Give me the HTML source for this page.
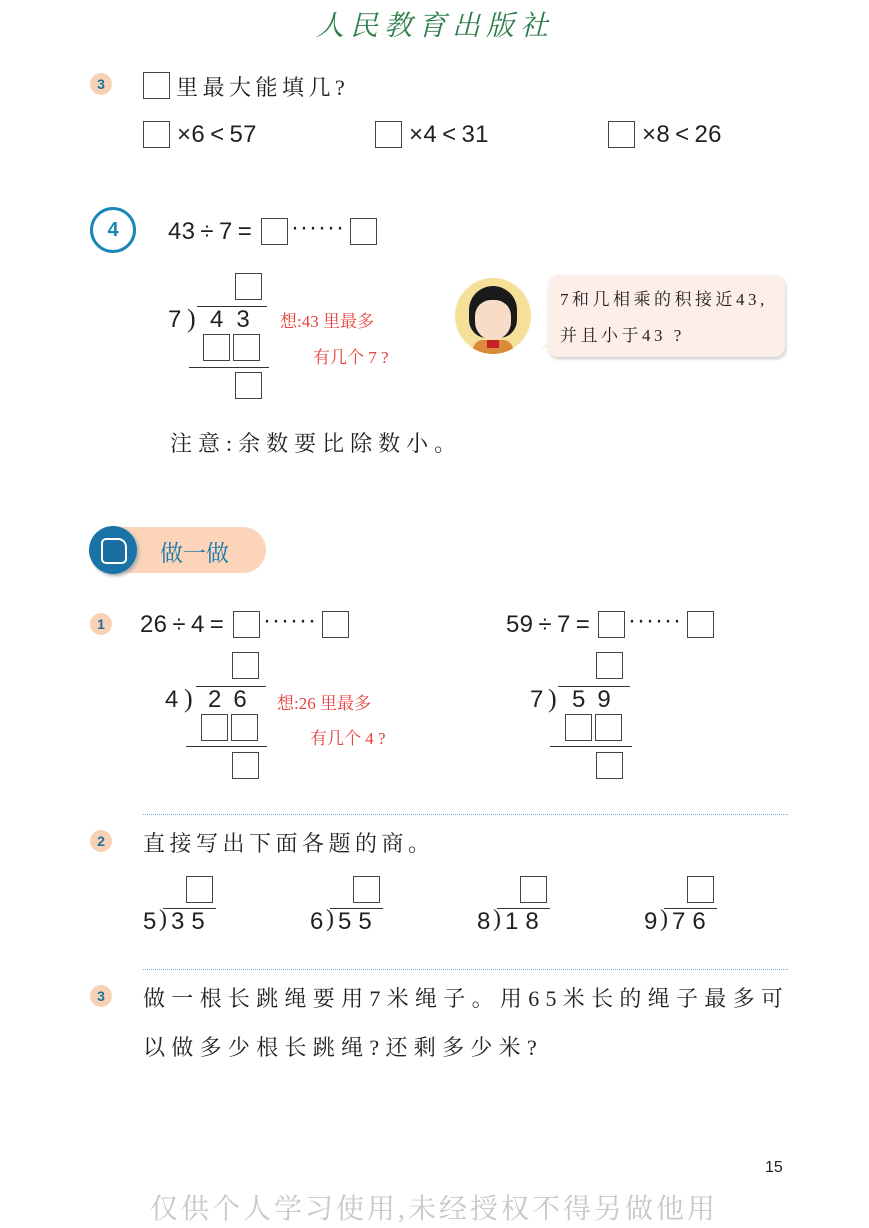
<!DOCTYPE html>
<html><head><meta charset="utf-8"><style>
body{margin:0;width:869px;height:1228px;position:relative;background:#fff;overflow:hidden;font-family:"Liberation Sans","Noto Sans CJK SC",sans-serif;color:#231f20}
.a{position:absolute;white-space:nowrap}
.bx{position:absolute;width:27px;height:27px;border:1px solid #444;box-sizing:border-box;background:#fff}
.hl{position:absolute;height:0;border-top:1.3px solid #333}
.s{font-family:"Liberation Serif","Noto Serif CJK SC",serif}
.badge{position:absolute;width:22px;height:22px;border-radius:50%;background:#f9d2b6;color:#1b6fa3;font:bold 14px "Liberation Sans",sans-serif;text-align:center;line-height:22px}
.red{color:#e8413c;font-family:"Liberation Serif","Noto Serif CJK SC",serif;font-size:17px}
.n{font-size:24px;line-height:28px}
.e{font-size:24px;line-height:28px;letter-spacing:0.3px}
.dot{position:absolute;left:143px;width:645px;border-top:1.5px dotted #7fa9c4}
.p{position:absolute;font-size:24px;font-family:'Liberation Serif'}
</style></head><body>
<div class="a s" style="left:316px;top:4px;font-size:28px;color:#2e7d4a;font-style:italic;letter-spacing:6px">人民教育出版社</div>

<div class="badge" style="left:90px;top:73px">3</div>
<div class="bx" style="left:143px;top:72px"></div>
<div class="a s" style="left:176px;top:71px;font-size:22px;letter-spacing:4.5px">里最大能填几?</div>
<div class="bx" style="left:143px;top:121px"></div><div class="a e" style="left:177px;top:121px">×6&thinsp;&lt;&thinsp;57</div>
<div class="bx" style="left:375px;top:121px"></div><div class="a e" style="left:409px;top:121px">×4&thinsp;&lt;&thinsp;31</div>
<div class="bx" style="left:608px;top:121px"></div><div class="a e" style="left:642px;top:121px">×8&thinsp;&lt;&thinsp;26</div>

<div class="a" style="left:90px;top:207px;width:40px;height:40px;border:3px solid #1a86b8;border-radius:50%;color:#1a86b8;font:bold 20px 'Liberation Sans';text-align:center;line-height:40px">4</div>
<div class="a e" style="left:168px;top:218px">43&thinsp;÷&thinsp;7&thinsp;=</div>
<div class="bx" style="left:261px;top:218px"></div>
<div class="a n" style="left:291px;top:214px;letter-spacing:1px">······</div>
<div class="bx" style="left:350px;top:218px"></div>

<div class="bx" style="left:235px;top:273px"></div>
<div class="a n" style="left:168px;top:306px">7</div>
<div class="a" style="left:187px;top:304px;font-size:26px;font-family:'Liberation Serif'">)</div>
<div class="hl" style="left:197px;top:306px;width:70px"></div>
<div class="a n" style="left:210px;top:306px;letter-spacing:13px">43</div>
<div class="bx" style="left:203px;top:334px"></div><div class="bx" style="left:233px;top:334px"></div>
<div class="hl" style="left:189px;top:367px;width:80px"></div>
<div class="bx" style="left:235px;top:372px"></div>
<div class="a red" style="left:280px;top:307px">想:43 里最多</div>
<div class="a red" style="left:313px;top:343px">有几个 7 ?</div>

<div class="a" style="left:455px;top:278px;width:76px;height:76px;border-radius:50%;background:#f6df98;overflow:hidden">
<div class="a" style="left:14px;top:8px;width:48px;height:52px;border-radius:24px 24px 18px 18px;background:#1a1a1a"></div>
<div class="a" style="left:20px;top:22px;width:36px;height:40px;border-radius:16px 16px 18px 18px;background:#f8dcc8"></div>
<div class="a" style="left:18px;top:62px;width:40px;height:20px;background:#d98a3a;border-radius:10px 10px 0 0"></div>
<div class="a" style="left:32px;top:62px;width:12px;height:8px;background:#c8202a"></div>
</div>
<div class="a" style="left:548px;top:275px;width:237px;height:82px;background:#fcefe9;border-radius:10px;box-shadow:1px 2px 3px #ccc"></div>
<div class="a" style="left:540px;top:340px;width:0;height:0;border-top:8px solid transparent;border-right:12px solid #fcefe9"></div>
<div class="a s" style="left:560px;top:285px;font-size:17px;letter-spacing:3.5px">7和几相乘的积接近43,</div>
<div class="a s" style="left:560px;top:321px;font-size:17px;letter-spacing:3.5px">并且小于43 ?</div>

<div class="a s" style="left:170px;top:427px;font-size:22px;letter-spacing:6px">注意:余数要比除数小。</div>

<div class="a" style="left:100px;top:527px;width:166px;height:46px;border-radius:23px;background:#fbd4b9"></div>
<div class="a" style="left:89px;top:526px;width:48px;height:48px;border-radius:50%;background:#1a73a6;box-shadow:2px 2px 3px #aaa"></div>
<div class="a" style="left:101px;top:538px;width:22px;height:22px;border:2px solid #fff;border-radius:5px 9px 5px 5px;background:#1a6fa0"></div>
<div class="a s" style="left:160px;top:535px;font-size:23px;color:#1a7aae">做一做</div>

<div class="badge" style="left:90px;top:613px">1</div>
<div class="a e" style="left:140px;top:611px">26&thinsp;÷&thinsp;4&thinsp;=</div>
<div class="bx" style="left:233px;top:611px"></div>
<div class="a n" style="left:263px;top:607px;letter-spacing:1px">······</div>
<div class="bx" style="left:322px;top:611px"></div>
<div class="bx" style="left:232px;top:652px"></div>
<div class="a n" style="left:165px;top:686px">4</div>
<div class="a" style="left:184px;top:684px;font-size:26px;font-family:'Liberation Serif'">)</div>
<div class="hl" style="left:196px;top:686px;width:70px"></div>
<div class="a n" style="left:208px;top:686px;letter-spacing:12px">26</div>
<div class="bx" style="left:201px;top:714px"></div><div class="bx" style="left:231px;top:714px"></div>
<div class="hl" style="left:186px;top:746px;width:81px"></div>
<div class="bx" style="left:232px;top:752px"></div>
<div class="a red" style="left:277px;top:689px">想:26 里最多</div>
<div class="a red" style="left:310px;top:724px">有几个 4 ?</div>

<div class="a e" style="left:506px;top:611px">59&thinsp;÷&thinsp;7&thinsp;=</div>
<div class="bx" style="left:598px;top:611px"></div>
<div class="a n" style="left:628px;top:607px;letter-spacing:1px">······</div>
<div class="bx" style="left:687px;top:611px"></div>
<div class="bx" style="left:596px;top:652px"></div>
<div class="a n" style="left:530px;top:686px">7</div>
<div class="a" style="left:548px;top:684px;font-size:26px;font-family:'Liberation Serif'">)</div>
<div class="hl" style="left:558px;top:686px;width:72px"></div>
<div class="a n" style="left:572px;top:686px;letter-spacing:12px">59</div>
<div class="bx" style="left:565px;top:714px"></div><div class="bx" style="left:595px;top:714px"></div>
<div class="hl" style="left:550px;top:746px;width:82px"></div>
<div class="bx" style="left:596px;top:752px"></div>

<div class="dot" style="top:814px"></div>
<div class="badge" style="left:90px;top:830px">2</div>
<div class="a s" style="left:143px;top:827px;font-size:22px;letter-spacing:4.5px">直接写出下面各题的商。</div>

<div class="bx" style="left:186px;top:876px"></div><div class="hl" style="left:163px;top:908px;width:53px"></div>
<div class="a n" style="left:143px;top:908px">5</div><div class="p" style="left:159px;top:906px">)</div><div class="a n" style="left:171px;top:908px;letter-spacing:7px">35</div>
<div class="bx" style="left:353px;top:876px"></div><div class="hl" style="left:330px;top:908px;width:53px"></div>
<div class="a n" style="left:310px;top:908px">6</div><div class="p" style="left:326px;top:906px">)</div><div class="a n" style="left:338px;top:908px;letter-spacing:7px">55</div>
<div class="bx" style="left:520px;top:876px"></div><div class="hl" style="left:497px;top:908px;width:53px"></div>
<div class="a n" style="left:477px;top:908px">8</div><div class="p" style="left:493px;top:906px">)</div><div class="a n" style="left:505px;top:908px;letter-spacing:7px">18</div>
<div class="bx" style="left:687px;top:876px"></div><div class="hl" style="left:664px;top:908px;width:53px"></div>
<div class="a n" style="left:644px;top:908px">9</div><div class="p" style="left:660px;top:906px">)</div><div class="a n" style="left:672px;top:908px;letter-spacing:7px">76</div>

<div class="dot" style="top:969px"></div>
<div class="badge" style="left:90px;top:985px">3</div>
<div class="a s" style="left:143px;top:982px;font-size:22px;letter-spacing:6.3px">做一根长跳绳要用7米绳子。用65米长的绳子最多可</div>
<div class="a s" style="left:143px;top:1031px;font-size:22px;letter-spacing:6.3px">以做多少根长跳绳?还剩多少米?</div>

<div class="a" style="left:765px;top:1159px;font-size:16px">15</div>
<div class="a s" style="left:150px;top:1187px;font-size:28px;color:#c8c8c8;letter-spacing:3px">仅供个人学习使用,未经授权不得另做他用</div>
</body></html>
